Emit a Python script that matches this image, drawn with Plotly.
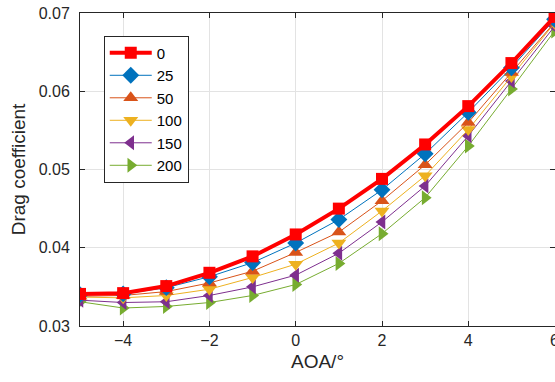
import plotly.graph_objects as go

# Angle of attack (deg)
aoa = [-5, -4, -3, -2, -1, 0, 1, 2, 3, 4, 5, 6]

# Drag coefficient for each case
cd_0 = [0.0341, 0.0342, 0.0351, 0.0368, 0.0389, 0.0417, 0.0450, 0.0488, 0.0532, 0.0581, 0.0636, 0.0695]
cd_25 = [0.0340, 0.0341, 0.0349, 0.0363, 0.0381, 0.0406, 0.0436, 0.0474, 0.0520, 0.0573, 0.0630, 0.0692]
cd_50 = [0.0338, 0.0339, 0.0344, 0.0355, 0.0370, 0.0394, 0.0420, 0.0460, 0.0506, 0.0560, 0.0624, 0.0688]
cd_100 = [0.0337, 0.0336, 0.0339, 0.0347, 0.0362, 0.0379, 0.0406, 0.0447, 0.0492, 0.0551, 0.0619, 0.0687]
cd_150 = [0.0333, 0.0330, 0.0331, 0.0339, 0.0350, 0.0365, 0.0393, 0.0433, 0.0479, 0.0543, 0.0613, 0.0683]
cd_200 = [0.0331, 0.0323, 0.0325, 0.0330, 0.0339, 0.0353, 0.0380, 0.0418, 0.0464, 0.0530, 0.0603, 0.0677]

series_names = ["0", "25", "50", "100", "150", "200"]
series_values = [cd_0, cd_25, cd_50, cd_100, cd_150, cd_200]

styles = [
    dict(color="#FF0000", symbol="square", size=12, width=4),
    dict(color="#0072BD", symbol="diamond", size=13, width=1),
    dict(color="#D95319", symbol="triangle-up", size=13, width=1),
    dict(color="#EDB120", symbol="triangle-down", size=13, width=1),
    dict(color="#7E2F8E", symbol="triangle-left", size=13, width=1),
    dict(color="#77AC30", symbol="triangle-right", size=13, width=1),
]

fig = go.Figure()
# draw thin series first, reference case on top
order = [5, 4, 3, 2, 1, 0]
for i in order:
    st = styles[i]
    fig.add_trace(go.Scatter(
        x=aoa, y=series_values[i], name=series_names[i],
        mode="lines+markers",
        line=dict(color=st["color"], width=st["width"]),
        marker=dict(symbol=st["symbol"], size=st["size"], color=st["color"],
                    line=dict(width=0)),
        legendrank=i + 1,
    ))

axis_color = "#262626"
grid_color = "#E3E3E3"

fig.update_layout(
    width=555, height=382,
    margin=dict(l=80, r=0, t=13, b=56, autoexpand=False),
    paper_bgcolor="white", plot_bgcolor="white",
    font=dict(family="Liberation Sans, Arial, sans-serif", size=16, color=axis_color),
    showlegend=True,
    legend=dict(
        x=0.05, y=0.928, xanchor="left", yanchor="top",
        bgcolor="white", bordercolor=axis_color, borderwidth=1,
        font=dict(size=15, color="black"),
        traceorder="normal",
        itemwidth=42,
    ),
)

fig.update_xaxes(
    range=[-5, 6.01], tickvals=[-4, -2, 0, 2, 4, 6],
    showgrid=True, gridcolor=grid_color, gridwidth=1,
    showline=True, linecolor=axis_color, linewidth=1, mirror="ticks",
    ticks="inside", ticklen=5, tickcolor=axis_color,
    zeroline=False,
    ticklabeloverflow="allow",
    tickfont=dict(size=16, color=axis_color),
    title=dict(text="AOA/°", font=dict(size=19, color=axis_color), standoff=6),
)
fig.update_yaxes(
    range=[0.03, 0.07], tickvals=[0.03, 0.04, 0.05, 0.06, 0.07],
    tickformat=".2f",
    showgrid=True, gridcolor=grid_color, gridwidth=1,
    showline=True, linecolor=axis_color, linewidth=1, mirror="ticks",
    ticks="inside", ticklen=5, tickcolor=axis_color,
    zeroline=False,
    tickfont=dict(size=16, color=axis_color),
    ticklabelstandoff=6,
    title=dict(text="Drag coefficient", font=dict(size=19, color=axis_color), standoff=8),
)

fig.write_html("out.html")
